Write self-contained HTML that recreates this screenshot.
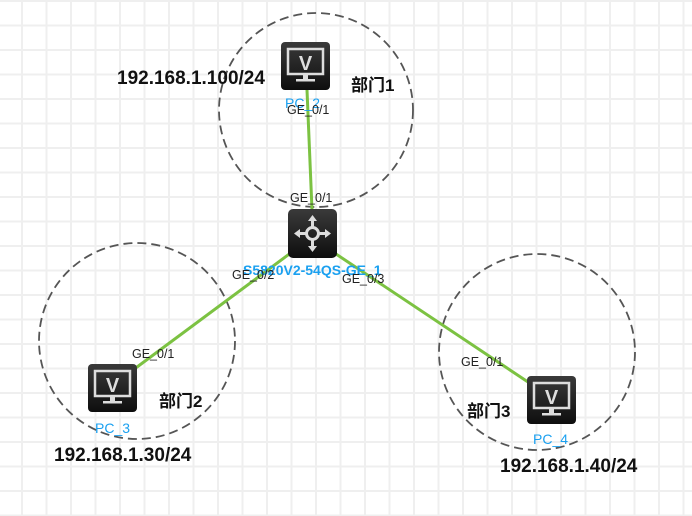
<!DOCTYPE html>
<html><head><meta charset="utf-8"><style>
html,body{margin:0;padding:0;background:#fff;}
svg{display:block;}
text{font-family:"Liberation Sans","Noto Sans CJK SC",sans-serif;}
</style></head><body>
<svg width="692" height="516" viewBox="0 0 692 516" xmlns="http://www.w3.org/2000/svg">
<defs>
<pattern id="g" x="21" y="0" width="24.5" height="24.5" patternUnits="userSpaceOnUse">
<rect x="0" y="0" width="2" height="24.5" fill="#efefef"/>
<rect x="0" y="0" width="24.5" height="2" fill="#efefef"/>
</pattern>
<linearGradient id="ic" x1="0" y1="0" x2="0" y2="1"><stop offset="0" stop-color="#3a3a3a"/><stop offset="1" stop-color="#0e0e0e"/></linearGradient>
<g id="pc">
<rect x="0" y="0" width="49" height="48" rx="4" fill="url(#ic)"/>
<rect x="7" y="7" width="35" height="25" fill="none" stroke="#ddd" stroke-width="2.5"/>
<text x="24.5" y="28" text-anchor="middle" font-size="20" font-weight="bold" fill="#ddd">V</text>
<rect x="22" y="33" width="5" height="4" fill="#ddd"/>
<rect x="15" y="37" width="19" height="2.5" fill="#ddd"/>
</g>
</defs>
<rect width="692" height="516" fill="url(#g)"/>
<g fill="none" stroke="#555" stroke-width="1.8" stroke-dasharray="9,5">
<circle cx="316" cy="110" r="97"/>
<circle cx="137" cy="341" r="98"/>
<circle cx="537" cy="352" r="98"/>
</g>
<g stroke="#7cc242" stroke-width="3">
<line x1="307" y1="90" x2="312" y2="210"/>
<line x1="292" y1="252" x2="133" y2="370"/>
<line x1="333" y1="252" x2="528" y2="382"/>
</g>
<use href="#pc" x="281" y="42"/>
<use href="#pc" x="88" y="364"/>
<use href="#pc" x="527" y="376"/>
<rect x="288" y="209" width="49" height="49" rx="5" fill="url(#ic)"/>
<g stroke="#ddd" stroke-width="3" fill="none" stroke-linecap="round">
<circle cx="312.5" cy="233.5" r="6"/>
<line x1="312.5" y1="218" x2="312.5" y2="227"/><line x1="312.5" y1="240" x2="312.5" y2="249"/>
<line x1="297" y1="233.5" x2="306" y2="233.5"/><line x1="319" y1="233.5" x2="328" y2="233.5"/>
</g>
<g fill="#ddd">
<polygon points="312.5,215 308,221 317,221"/><polygon points="312.5,252 308,246 317,246"/>
<polygon points="294,233.5 300,229 300,238"/><polygon points="331,233.5 325,229 325,238"/>
</g>
<g font-size="19" font-weight="bold" fill="#111">
<text x="117" y="84">192.168.1.100/24</text>
<text x="54" y="461">192.168.1.30/24</text>
<text x="500" y="472">192.168.1.40/24</text>
</g>
<g font-size="17" font-weight="bold" fill="#111">
<text x="351" y="91">部门1</text>
<text x="159" y="407">部门2</text>
<text x="467" y="417">部门3</text>
</g>
<g font-size="14" fill="#1aa0f0">
<text x="285" y="108">PC_2</text>
<text x="95" y="433">PC_3</text>
<text x="533" y="444">PC_4</text>
<text x="243" y="275" font-weight="bold">S5820V2-54QS-GE_1</text>
</g>
<g font-size="12.5" fill="#222">
<text x="287" y="114">GE_0/1</text>
<text x="290" y="202">GE_0/1</text>
<text x="232" y="279">GE_0/2</text>
<text x="342" y="283">GE_0/3</text>
<text x="132" y="358">GE_0/1</text>
<text x="461" y="366">GE_0/1</text>
</g>
</svg>
</body></html>
